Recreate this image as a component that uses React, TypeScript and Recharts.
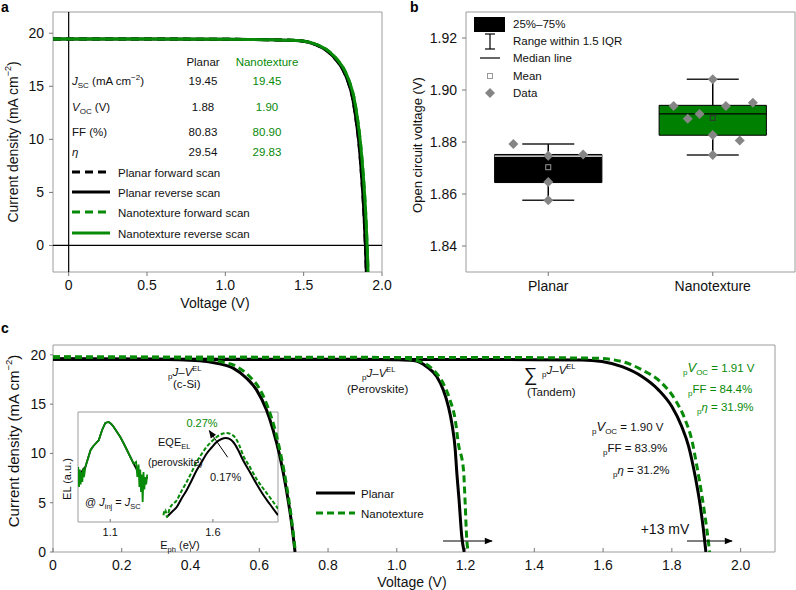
import React from "react";
import {
  LineChart,
  Line,
  ScatterChart,
  Scatter,
  XAxis,
  YAxis,
  ReferenceArea,
  ReferenceLine,
} from "recharts";

const FONT = '"Liberation Sans", Arial, Helvetica, sans-serif';
const GREEN = "#078a07";
const GREY = "#858585";
const FRAME = "#9c9c9c";
const INK = "#111";

// ---------- a: J-V curves (forward and reverse scans overlap)
const aPlanarV = [-0.1, 0.5, 1.0, 1.3, 1.474, 1.581, 1.655, 1.708, 1.751, 1.783, 1.811, 1.832, 1.853, 1.87, 1.885, 1.894, 1.9];
const aPlanarJ = [19.45, 19.45, 19.43, 19.38, 19.3, 18.9, 18.27, 17.48, 16.54, 15.44, 14.0, 12.1, 9.6, 6.5, 3.0, 0, -2.5];
const aNanoV = [-0.1, 0.5, 1.0, 1.3, 1.48, 1.588, 1.663, 1.716, 1.76, 1.792, 1.82, 1.842, 1.863, 1.881, 1.896, 1.905, 1.911];
const aNanoJ = [19.45, 19.45, 19.43, 19.38, 19.3, 18.9, 18.27, 17.48, 16.54, 15.44, 14.0, 12.1, 9.6, 6.5, 3.0, 0, -2.5];
const aTicksX = [0, 0.5, 1.0, 1.5, 2.0];
const aTicksY = [0, 5, 10, 15, 20];
const planarParams = ["19.45", "1.88", "80.83", "29.54"];
const nanoParams = ["19.45", "1.90", "80.90", "29.83"];
const aLegend = ["Planar forward scan", "Planar reverse scan", "Nanotexture forward scan", "Nanotexture reverse scan"];

// ---------- b: Voc statistics
const groups = ["Planar", "Nanotexture"];
const planarVoc = [1.8792, 1.8747, 1.8752, 1.8646, 1.8576];
const planarJitter = [-0.106, 0, 0.106, 0, 0];
const nanoVoc = [1.8938, 1.8889, 1.8908, 1.9041, 1.8827, 1.875, 1.8938, 1.8806, 1.8951];
const nanoJitter = [-0.119, -0.076, -0.04, 0, 0, 0, 0.04, 0.082, 0.122];
const boxQ1 = [1.8644, 1.8826];
const boxQ3 = [1.8752, 1.8941];
const boxMedian = [1.8746, 1.8908];
const whiskerLow = [1.8576, 1.875];
const whiskerHigh = [1.8792, 1.9041];
const boxMean = [1.8703, 1.8893];
const bTicksY = [1.84, 1.86, 1.88, 1.9, 1.92];

// ---------- c: pseudo J-V from EL
const siPlanarV = [0, 0.3, 0.427, 0.476, 0.524, 0.563, 0.592, 0.621, 0.64, 0.66, 0.679, 0.694, 0.704];
const siPlanarJ = [19.6, 19.55, 19.39, 19.15, 18.65, 17.63, 16.45, 14.4, 12.4, 9.7, 6.3, 2.9, 0];
const siNanoV = [0, 0.3, 0.44, 0.49, 0.535, 0.572, 0.6, 0.626, 0.645, 0.663, 0.681, 0.695, 0.705];
const siNanoJ = [19.8, 19.75, 19.55, 19.3, 18.8, 17.8, 16.6, 14.6, 12.5, 9.8, 6.4, 3.0, 0];
const pvkPlanarV = [0, 0.9, 1.0, 1.048, 1.087, 1.116, 1.135, 1.15, 1.16, 1.17, 1.174, 1.181, 1.189, 1.196];
const pvkPlanarJ = [19.56, 19.55, 19.5, 19.42, 18.8, 17.8, 16.45, 14.75, 13.07, 10.36, 8.3, 5.3, 1.55, 0];
const pvkNanoV = [0, 0.9, 1.0, 1.068, 1.106, 1.135, 1.155, 1.17, 1.179, 1.194, 1.199, 1.203, 1.208];
const pvkNanoJ = [19.75, 19.75, 19.7, 19.32, 18.48, 17.1, 15.4, 13.4, 11.0, 8.3, 4.8, 1.55, 0];
const tanPlanarV = [0, 1.3, 1.538, 1.597, 1.655, 1.713, 1.761, 1.8, 1.829, 1.849, 1.868, 1.883, 1.892, 1.899];
const tanPlanarJ = [19.55, 19.52, 19.49, 19.32, 18.8, 17.8, 16.45, 14.75, 12.7, 10.7, 7.65, 4.6, 2.23, 0];
const tanNanoV = [0, 1.3, 1.577, 1.655, 1.713, 1.771, 1.81, 1.839, 1.858, 1.873, 1.888, 1.902, 1.91];
const tanNanoJ = [19.75, 19.73, 19.66, 19.32, 18.48, 17.13, 15.43, 13.4, 11.37, 8.66, 5.6, 2.23, 0];
const cTicksX = [0, 0.2, 0.4, 0.6, 0.8, 1.0, 1.2, 1.4, 1.6, 1.8, 2.0];
const cTicksY = [0, 5, 10, 15, 20];

// ---------- c inset: EL spectra, log10 of normalised intensity
const siE = [0.944, 0.948, 0.952, 0.956, 0.96, 0.964, 0.968, 0.972, 0.979, 0.99, 1.004, 1.016, 1.028, 1.044, 1.06, 1.076, 1.092, 1.105, 1.117, 1.133, 1.149, 1.165, 1.182, 1.198, 1.214, 1.226, 1.232, 1.238, 1.242, 1.246, 1.25, 1.254, 1.258, 1.262, 1.266, 1.27, 1.275, 1.28];
const siPlanarLog = [-2.3, -2.2, -2.15, -2.1, -2.0, -1.95, -1.9, -1.85, -1.8, -1.5, -1.13, -0.98, -0.87, -0.73, -0.33, -0.04, 0, -0.08, -0.2, -0.4, -0.6, -0.85, -1.13, -1.4, -1.67, -1.85, -1.95, -2.05, -2.1, -2.2, -2.3, -2.4, -2.5, -2.55, -2.5, -2.4, -2.3, -2.2];
const siNanoLog = [-1.8, -2.6, -1.9, -2.5, -2.0, -2.4, -1.85, -2.2, -1.8, -1.5, -1.13, -0.98, -0.87, -0.73, -0.33, -0.04, 0, -0.08, -0.2, -0.4, -0.6, -0.85, -1.13, -1.4, -1.67, -1.6, -2.2, -1.7, -2.6, -1.9, -2.8, -2.1, -3.2, -2.0, -2.7, -2.2, -2.5, -2.1];
const pvkPlanarE = [1.375, 1.4, 1.424, 1.448, 1.472, 1.497, 1.521, 1.545, 1.569, 1.594, 1.618, 1.642, 1.663, 1.681, 1.699, 1.723, 1.747, 1.78, 1.812, 1.844, 1.876, 1.917];
const pvkPlanarLog = [-3.8, -3.6, -3.4, -3.05, -2.73, -2.33, -1.93, -1.6, -1.27, -1.02, -0.8, -0.68, -0.64, -0.68, -0.8, -1.12, -1.53, -2.0, -2.47, -2.9, -3.27, -3.73];
const pvkNanoE = [1.359, 1.368, 1.376, 1.39, 1.424, 1.448, 1.472, 1.497, 1.521, 1.545, 1.569, 1.594, 1.618, 1.642, 1.666, 1.686, 1.706, 1.727, 1.747, 1.78, 1.812, 1.844, 1.876, 1.917];
const pvkNanoLog = [-3.73, -3.5, -3.8, -3.45, -3.13, -2.75, -2.4, -2.0, -1.6, -1.28, -1.0, -0.78, -0.6, -0.48, -0.44, -0.48, -0.6, -0.9, -1.33, -1.8, -2.27, -2.65, -3.0, -3.47];

const jv = (vs: number[], js: number[]) => vs.map((v, i) => ({ v, j: js[i] }));
const el = (es: number[], logs: number[]) => es.map((e, i) => ({ e, y: 10 ** logs[i] }));
const fmtV = (v: number) => (v === 0 ? "0" : v.toFixed(1));

const tickFont = { fill: INK, fontSize: 14 };

function PanelA() {
  return (
    <div style={{ position: "absolute", left: 0, top: 0 }}>
      <LineChart width={400} height={300} margin={{ top: 12, right: 18, bottom: 0, left: 0 }}>
        <XAxis type="number" dataKey="v" domain={[-0.1, 2.0]} ticks={aTicksX} interval={0}
          tickFormatter={fmtV} height={28} axisLine={false} tickSize={4} tickMargin={4}
          stroke="#777" tick={tickFont} allowDataOverflow />
        <YAxis type="number" domain={[-2.5, 22]} ticks={aTicksY} interval={0} width={53}
          axisLine={false} tickSize={4} tickMargin={5} stroke="#777" tick={tickFont} allowDataOverflow />
        <ReferenceArea x1={-0.1} x2={2.0} y1={-2.5} y2={22} fill="none" stroke={FRAME} />
        <ReferenceLine x={0} stroke="#000" strokeWidth={1.2} />
        <ReferenceLine y={0} stroke="#000" strokeWidth={1.2} />
        <Line data={jv(aPlanarV, aPlanarJ)} dataKey="j" type="monotone" stroke="#000" strokeWidth={3}
          strokeDasharray="8 5" dot={false} isAnimationActive={false} />
        <Line data={jv(aNanoV, aNanoJ)} dataKey="j" type="monotone" stroke={GREEN} strokeWidth={3}
          strokeDasharray="8 5" dot={false} isAnimationActive={false} />
        <Line data={jv(aPlanarV, aPlanarJ)} dataKey="j" type="monotone" stroke="#000" strokeWidth={3}
          dot={false} isAnimationActive={false} />
        <Line data={jv(aNanoV, aNanoJ)} dataKey="j" type="monotone" stroke={GREEN} strokeWidth={3}
          dot={false} isAnimationActive={false} />
      </LineChart>
    </div>
  );
}

const Diamond = (p: any) => (
  <path d={`M${p.cx},${p.cy - 5}L${p.cx + 5},${p.cy}L${p.cx},${p.cy + 5}L${p.cx - 5},${p.cy}Z`} fill={GREY} />
);
const MeanSquare = (color: string) => (p: any) => (
  <rect x={p.cx - 2.5} y={p.cy - 2.5} width={5} height={5} fill="none" stroke={color} strokeWidth={1} />
);

function PanelB() {
  const centers = groups.map((_, i) => (i + 0.5) / groups.length);
  const boxHalf = 0.163;
  const capHalf = 0.079;
  const planarPts = planarVoc.map((y, i) => ({ x: centers[0] + planarJitter[i], y }));
  const nanoPts = nanoVoc.map((y, i) => ({ x: centers[1] + nanoJitter[i], y }));
  const fills = ["#000", "#008000"];
  const medians = ["#fff", "#000"];
  const meanColors = ["#999", "#333"];
  return (
    <div style={{ position: "absolute", left: 400, top: 0 }}>
      <ScatterChart width={396} height={300} margin={{ top: 12, right: 1, bottom: 0, left: 0 }}>
        <XAxis type="number" dataKey="x" domain={[0, 1]} ticks={centers} interval={0}
          tickFormatter={(v: number) => groups[Math.round(v * groups.length - 0.5)]}
          height={28} axisLine={false} tickSize={4} tickMargin={5} stroke="#777" tick={tickFont} />
        <YAxis type="number" dataKey="y" domain={[1.83, 1.93]} ticks={bTicksY} interval={0}
          tickFormatter={(v: number) => v.toFixed(2)} width={66} axisLine={false}
          tickSize={4} tickMargin={5} stroke="#777" tick={tickFont} allowDataOverflow />
        <ReferenceArea x1={0} x2={1} y1={1.83} y2={1.93} fill="none" stroke={FRAME} />
        {centers.map((c, i) => (
          <ReferenceArea key={"box" + i} x1={c - boxHalf} x2={c + boxHalf} y1={boxQ1[i]} y2={boxQ3[i]}
            fill={fills[i]} fillOpacity={1} stroke="#000" strokeWidth={1} />
        ))}
        {centers.map((c, i) => (
          <ReferenceLine key={"wl" + i} segment={[{ x: c, y: whiskerLow[i] }, { x: c, y: boxQ1[i] }]} stroke="#000" strokeWidth={1.5} />
        ))}
        {centers.map((c, i) => (
          <ReferenceLine key={"wh" + i} segment={[{ x: c, y: boxQ3[i] }, { x: c, y: whiskerHigh[i] }]} stroke="#000" strokeWidth={1.5} />
        ))}
        {centers.map((c, i) => (
          <ReferenceLine key={"cl" + i} segment={[{ x: c - capHalf, y: whiskerLow[i] }, { x: c + capHalf, y: whiskerLow[i] }]} stroke="#222" strokeWidth={1.5} />
        ))}
        {centers.map((c, i) => (
          <ReferenceLine key={"ch" + i} segment={[{ x: c - capHalf, y: whiskerHigh[i] }, { x: c + capHalf, y: whiskerHigh[i] }]} stroke="#222" strokeWidth={1.5} />
        ))}
        {centers.map((c, i) => (
          <ReferenceLine key={"md" + i} segment={[{ x: c - boxHalf, y: boxMedian[i] }, { x: c + boxHalf, y: boxMedian[i] }]} stroke={medians[i]} strokeWidth={1.2} />
        ))}
        <Scatter data={[{ x: centers[0], y: boxMean[0] }]} shape={MeanSquare(meanColors[0])} isAnimationActive={false} />
        <Scatter data={[{ x: centers[1], y: boxMean[1] }]} shape={MeanSquare(meanColors[1])} isAnimationActive={false} />
        <Scatter data={planarPts} shape={Diamond} isAnimationActive={false} />
        <Scatter data={nanoPts} shape={Diamond} isAnimationActive={false} />
      </ScatterChart>
    </div>
  );
}

function PanelC() {
  const solid = { type: "monotone" as const, stroke: "#000", strokeWidth: 3, dot: false, isAnimationActive: false, dataKey: "j" };
  const dashed = { type: "monotone" as const, stroke: GREEN, strokeWidth: 3, strokeDasharray: "7 4", dot: false, isAnimationActive: false, dataKey: "j" };
  return (
    <div style={{ position: "absolute", left: 0, top: 330 }}>
      <LineChart width={796} height={260} margin={{ top: 15, right: 21, bottom: 0, left: 0 }}>
        <XAxis type="number" dataKey="v" domain={[0, 2.1]} ticks={cTicksX} interval={0}
          tickFormatter={fmtV} height={38} axisLine={false} tickSize={-4} tickMargin={12}
          stroke="#777" tick={tickFont} allowDataOverflow />
        <YAxis type="number" domain={[0, 21]} ticks={cTicksY} interval={0} width={53}
          axisLine={false} tickSize={3} tickMargin={4} stroke="#777" tick={tickFont} allowDataOverflow />
        <ReferenceArea x1={0} x2={2.1} y1={0} y2={21} fill="none" stroke={FRAME} />
        <Line data={jv(siPlanarV, siPlanarJ)} {...solid} />
        <Line data={jv(pvkPlanarV, pvkPlanarJ)} {...solid} />
        <Line data={jv(tanPlanarV, tanPlanarJ)} {...solid} />
        <Line data={jv(siNanoV, siNanoJ)} {...dashed} />
        <Line data={jv(pvkNanoV, pvkNanoJ)} {...dashed} />
        <Line data={jv(tanNanoV, tanNanoJ)} {...dashed} />
      </LineChart>
    </div>
  );
}

function Inset() {
  return (
    <div style={{ position: "absolute", left: 60, top: 400 }}>
      <LineChart width={230} height={150} margin={{ top: 12, right: 12, bottom: 0, left: 0 }}>
        <XAxis type="number" dataKey="e" domain={[0.943, 1.917]} ticks={[1.1, 1.6]} interval={0}
          height={28} axisLine={false} tickSize={-3} tickMargin={9} stroke="#777"
          tick={{ fill: INK, fontSize: 11 }} allowDataOverflow />
        <YAxis type="number" scale="log" domain={[1e-4, 2.51]} ticks={[0.001, 0.01, 0.1, 1]}
          interval={0} width={18} axisLine={false} tick={false} tickSize={-4} stroke="#777" allowDataOverflow />
        <ReferenceArea x1={0.943} x2={1.917} y1={1e-4} y2={2.51} fill="none" stroke={FRAME} />
        <Line data={el(siE, siPlanarLog)} dataKey="y" type="linear" stroke="#000" strokeWidth={1.8} dot={false} isAnimationActive={false} />
        <Line data={el(siE, siNanoLog)} dataKey="y" type="linear" stroke={GREEN} strokeWidth={1.8} dot={false} isAnimationActive={false} />
        <Line data={el(pvkPlanarE, pvkPlanarLog)} dataKey="y" type="monotone" stroke="#000" strokeWidth={2} dot={false} isAnimationActive={false} />
        <Line data={el(pvkNanoE, pvkNanoLog)} dataKey="y" type="monotone" stroke={GREEN} strokeWidth={2} strokeDasharray="4 2" dot={false} isAnimationActive={false} />
      </LineChart>
    </div>
  );
}

const PJV = ({ x, y, size = 11.5 }: { x: number; y: number; size?: number }) => (
  <text x={x} y={y} fontSize={size} fill={INK}>
    <tspan fontSize={size * 0.7} dy={3}>p</tspan>
    <tspan fontStyle="italic" dy={-3}>J</tspan>
    <tspan>–</tspan>
    <tspan fontStyle="italic">V</tspan>
    <tspan fontSize={size * 0.65} dy={-5}>EL</tspan>
  </text>
);

const Params = ({ x, y, color, voc, ff, eta }: any) => (
  <g fill={color} fontSize={11.5}>
    <text x={x[0]} y={y[0]}>
      <tspan fontSize={8} dy={3}>p</tspan>
      <tspan fontStyle="italic" fontSize={13} dy={-3}>V</tspan>
      <tspan fontSize={8} dy={3}>OC</tspan>
      <tspan dy={-3}>{` = ${voc} V`}</tspan>
    </text>
    <text x={x[1]} y={y[1]}>
      <tspan fontSize={8} dy={3}>p</tspan>
      <tspan dy={-3}>{`FF = ${ff}%`}</tspan>
    </text>
    <text x={x[2]} y={y[2]}>
      <tspan fontSize={8} dy={3}>p</tspan>
      <tspan fontStyle="italic" dy={-3}>η</tspan>
      <tspan>{` = ${eta}%`}</tspan>
    </text>
  </g>
);

function Overlay() {
  const rowY = [84.5, 110.5, 135.5, 155.5];
  const legY = [172, 192, 212, 233];
  const legStyle = [
    { c: "#000", d: "8 5" },
    { c: "#000", d: undefined },
    { c: GREEN, d: "8 5" },
    { c: GREEN, d: undefined },
  ];
  const rowLabels = [
    <>
      <tspan fontStyle="italic">J</tspan>
      <tspan fontSize={8} dy={3}>SC</tspan>
      <tspan dy={-3}> (mA cm</tspan>
      <tspan fontSize={8} dy={-5}>−2</tspan>
      <tspan dy={5}>)</tspan>
    </>,
    <>
      <tspan fontStyle="italic">V</tspan>
      <tspan fontSize={8} dy={3}>OC</tspan>
      <tspan dy={-3}> (V)</tspan>
    </>,
    <>FF (%)</>,
    <tspan fontStyle="italic">η</tspan>,
  ];
  return (
    <svg width={796} height={590} style={{ position: "absolute", left: 0, top: 0, pointerEvents: "none" }}
      fontFamily={FONT}>
      <defs>
        <marker id="ah" viewBox="0 0 10 10" refX="9" refY="5" markerWidth="9" markerHeight="8"
          markerUnits="userSpaceOnUse" orient="auto">
          <path d="M0,1L10,5L0,9Z" fill="#000" />
        </marker>
      </defs>

      <text x={1} y={12} fontSize={14} fontWeight="bold" fill="#000">a</text>
      <text x={410} y={12} fontSize={14} fontWeight="bold" fill="#000">b</text>
      <text x={1} y={333} fontSize={14} fontWeight="bold" fill="#000">c</text>

      {/* a: axis titles */}
      <text transform="translate(13,142) rotate(-90)" textAnchor="middle" dominantBaseline="central" fontSize={14} fill={INK}>
        Current density (mA cm<tspan fontSize={9} dy={-5}>−2</tspan><tspan dy={5}>)</tspan>
      </text>
      <text x={215} y={308} textAnchor="middle" fontSize={14} fill={INK}>Voltage (V)</text>

      {/* a: parameter table */}
      <g fontSize={11.5}>
        <text x={203} y={65.5} textAnchor="middle" fill={INK}>Planar</text>
        <text x={267} y={65.5} textAnchor="middle" fill={GREEN}>Nanotexture</text>
        {rowY.map((y, i) => (
          <g key={i}>
            <text x={72} y={y} fill={INK}>{rowLabels[i]}</text>
            <text x={203} y={y} textAnchor="middle" fill={INK}>{planarParams[i]}</text>
            <text x={267} y={y} textAnchor="middle" fill={GREEN}>{nanoParams[i]}</text>
          </g>
        ))}
        {legY.map((y, i) => (
          <g key={"l" + i}>
            <line x1={72} x2={110} y1={y} y2={y} stroke={legStyle[i].c} strokeWidth={3} strokeDasharray={legStyle[i].d} />
            <text x={118} y={y + 4.5} fill={INK}>{aLegend[i]}</text>
          </g>
        ))}
      </g>

      {/* b: axis title and legend */}
      <text transform="translate(417,145) rotate(-90)" textAnchor="middle" dominantBaseline="central" fontSize={13} fill={INK}>
        Open circuit voltage (V)
      </text>
      <g fontSize={11.5} fill={INK}>
        <rect x={474} y={17} width={31} height={15} fill="#000" />
        <text x={513} y={28}>25%–75%</text>
        <line x1={490} x2={490} y1={34} y2={49} stroke="#000" strokeWidth={1.2} />
        <line x1={485} x2={495} y1={34} y2={34} stroke="#000" strokeWidth={1.2} />
        <line x1={485} x2={495} y1={49} y2={49} stroke="#000" strokeWidth={1.2} />
        <text x={513} y={45}>Range within 1.5 IQR</text>
        <line x1={480} x2={500} y1={58} y2={58} stroke="#000" strokeWidth={1.2} />
        <text x={513} y={62}>Median line</text>
        <rect x={487.5} y={73.5} width={5} height={5} fill="none" stroke="#999" />
        <text x={513} y={80}>Mean</text>
        <path d="M490,88L495,93L490,98L485,93Z" fill={GREY} />
        <text x={513} y={97}>Data</text>
      </g>

      {/* c: axis titles */}
      <text transform="translate(13,441) rotate(-90)" textAnchor="middle" dominantBaseline="central" fontSize={15} fill={INK}>
        Current density (mA cm<tspan fontSize={9.5} dy={-5}>−2</tspan><tspan dy={5}>)</tspan>
      </text>
      <text x={412} y={587} textAnchor="middle" fontSize={14} fill={INK}>Voltage (V)</text>

      {/* c: curve labels */}
      <PJV x={168} y={376} />
      <text x={173} y={388} fontSize={11.5} fill={INK}>(c-Si)</text>
      <PJV x={362} y={377} />
      <text x={347} y={393} fontSize={11.5} fill={INK}>(Perovskite)</text>
      <text x={524} y={381} fontSize={19} fill={INK}>∑</text>
      <PJV x={542} y={374} />
      <text x={527} y={396} fontSize={11.5} fill={INK}>(Tandem)</text>
      <Params x={[683, 688, 697]} y={[371.5, 392.5, 411]} color={GREEN} voc="1.91" ff="84.4" eta="31.9" />
      <Params x={[592, 603, 613]} y={[431, 451.5, 474]} color={INK} voc="1.90" ff="83.9" eta="31.2" />
      <text x={665} y={534} textAnchor="middle" fontSize={14} fill={INK}>+13 mV</text>
      <line x1={443} x2={492} y1={541} y2={541} stroke="#000" strokeWidth={1.2} markerEnd="url(#ah)" />
      <line x1={687} x2={732} y1={541} y2={541} stroke="#000" strokeWidth={1.2} markerEnd="url(#ah)" />

      {/* c: legend */}
      <line x1={316} x2={355} y1={493} y2={493} stroke="#000" strokeWidth={3} />
      <text x={361} y={497.5} fontSize={11.5} fill={INK}>Planar</text>
      <line x1={316} x2={355} y1={513} y2={513} stroke={GREEN} strokeWidth={3} strokeDasharray="7 4" />
      <text x={361} y={517.5} fontSize={11.5} fill={INK}>Nanotexture</text>

      {/* inset labels */}
      <text transform="translate(67,479) rotate(-90)" textAnchor="middle" dominantBaseline="central" fontSize={11} fill={INK}>
        EL (a.u.)
      </text>
      <text x={180} y={549} textAnchor="middle" fontSize={11} fill={INK}>
        E<tspan fontSize={7.5} dy={3}>ph</tspan><tspan dy={-3}> (eV)</tspan>
      </text>
      <text x={202} y={427} textAnchor="middle" fontSize={11} fill={GREEN}>0.27%</text>
      <text x={158} y={445.5} fontSize={11} fill={INK}>
        EQE<tspan fontSize={7.5} dy={3}>EL</tspan>
      </text>
      <text x={148} y={465.5} fontSize={10.5} fill={INK}>(perovskite)</text>
      <text x={210} y={480.5} fontSize={11} fill={INK}>0.17%</text>
      <line x1={227.7} y1={457.3} x2={209.3} y2={430.7} stroke="#000" strokeWidth={1} markerEnd="url(#ah)" />
      <text x={85} y={505.5} fontSize={11} fill={INK}>
        @ <tspan fontStyle="italic">J</tspan><tspan fontSize={7.5} dy={3}>inj</tspan>
        <tspan dy={-3}> = </tspan><tspan fontStyle="italic">J</tspan><tspan fontSize={7.5} dy={3}>SC</tspan>
      </text>
    </svg>
  );
}

export default function App() {
  return (
    <div style={{ position: "absolute", left: 0, top: 0, width: 796, height: 590, background: "#fff", fontFamily: FONT }}>
      <PanelA />
      <PanelB />
      <Inset />
      <PanelC />
      <Overlay />
    </div>
  );
}
